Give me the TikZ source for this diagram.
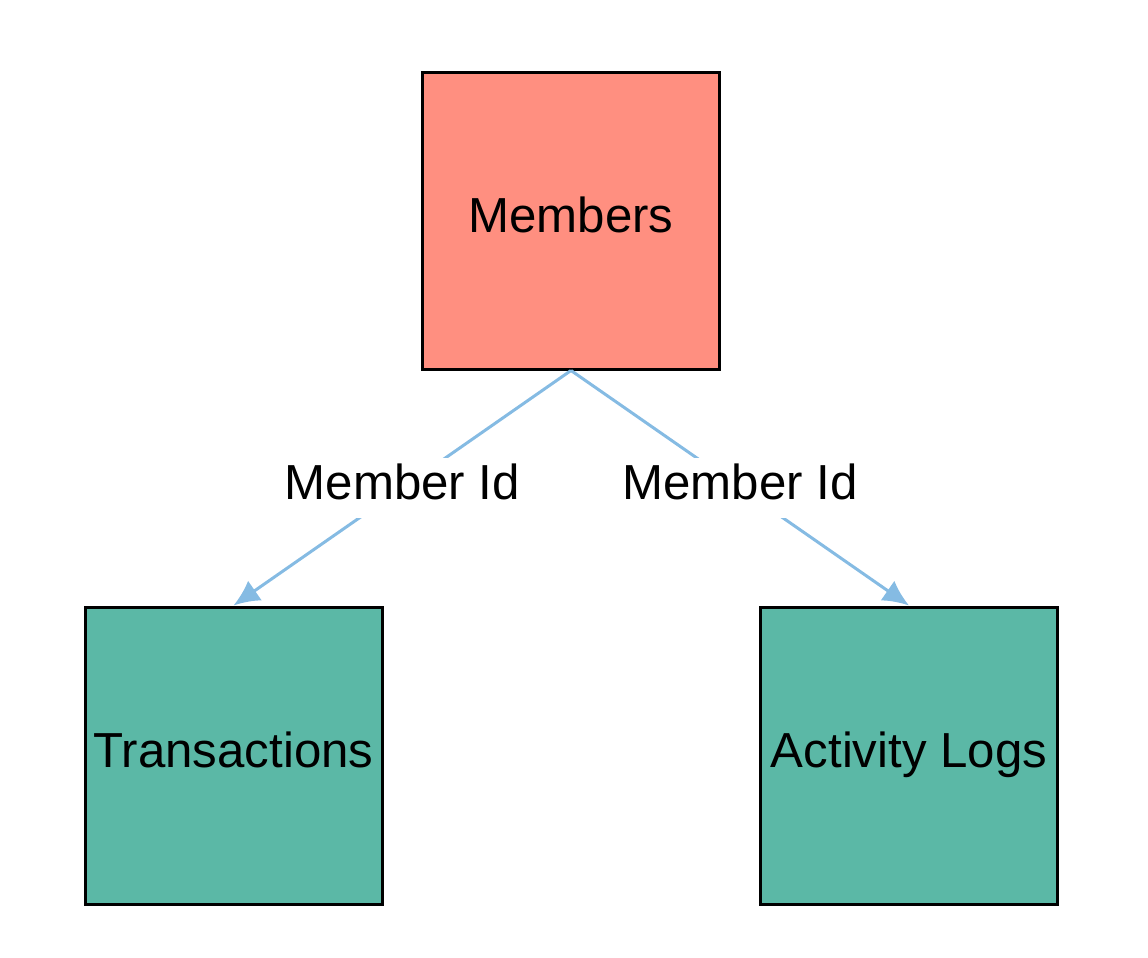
\documentclass[tikz,border=0pt]{standalone}
\usepackage{fontspec}
\setmainfont{Liberation Sans}
\usetikzlibrary{arrows.meta}
\definecolor{mysalmon}{HTML}{FF8F80}
\definecolor{myteal}{HTML}{5BB8A6}
\definecolor{myblue}{HTML}{85BBE3}

\begin{document}
\begin{tikzpicture}[x = 0.5pt, y = -0.5pt,
  table/.style = {draw = black, line width = 1.5pt, minimum size = 148.5pt,
    inner sep = 0pt, text height = 17.6pt, text depth = 6pt,
    font = \fontsize{24.6}{29}\selectfont},
  link/.style = {myblue, line width = 1.5pt, -{Latex[length = 13pt, width = 12pt]}},
  linklabel/.style = {fill = white, inner sep = 3pt, text = black,
    text height = 17.6pt, text depth = 6pt,
    font = \fontsize{24.6}{29}\selectfont}]
\useasboundingbox (0,0) rectangle (1148,958);
%\tikzstyle{every node} = [font = \small]
\node [table, fill = mysalmon] (members) at (571,220.5) {Members};
\node [table, fill = myteal] (trans) at (233.5,755.5) {Transactions};
\node [table, fill = myteal] (logs) at (909,755.5) {Activity Logs};

\draw [link] (members.south) -- (trans.north) node[linklabel, pos = 0.5] {Member Id}; %members to transactions
\draw [link] (members.south) -- (logs.north) node[linklabel, pos = 0.5] {Member Id}; %members to logs
\end{tikzpicture}
\end{document}
